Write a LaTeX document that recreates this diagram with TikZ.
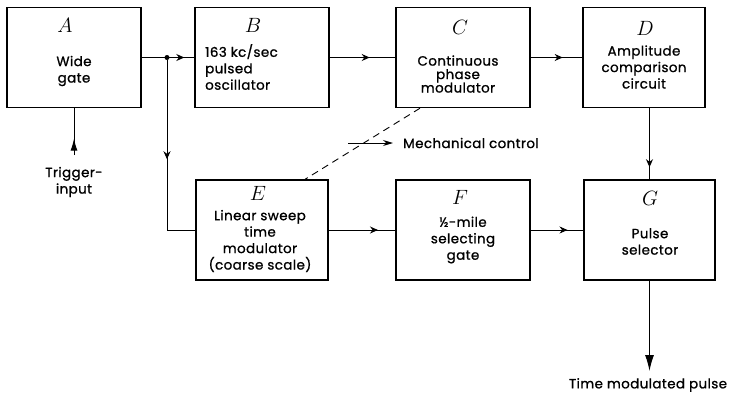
\documentclass[tikz,border=0pt]{standalone}
\usepackage{fontspec}
\setmainfont{Poppins}[LetterSpace=3,FakeBold=1]
\usetikzlibrary{arrows.meta,decorations.markings}
\begin{document}
\begin{tikzpicture}[x=1bp,y=-1bp,
  blk/.style={draw,line width=1.4pt,minimum width=#1,minimum height=100bp,inner sep=0pt},
  letter/.style={font=\fontsize{20}{20}\selectfont,inner sep=0pt},
  txt/.style={align=center,font=\fontsize{13.5}{16.5}\selectfont,inner sep=0pt},
  dot/.style={circle,fill,inner sep=0pt,minimum size=5bp},
  fwd/.style={line width=1pt,postaction={decorate},
    decoration={markings,mark=at position #1 with {\arrow{Stealth[length=8bp,width=7bp]}}}},
  trigarr/.style={line width=1pt,postaction={decorate},
    decoration={markings,mark=at position 0.35 with {\arrow{Latex[length=12bp,width=7bp]}}}},
  outarr/.style={line width=1.1pt,-{Latex[length=16bp,width=9bp]}},
  mech/.style={line width=0.9pt,dash pattern=on 7bp off 5bp}]
  \useasboundingbox (0,0) rectangle (735,393);
  % top row
  \node[blk=134bp] (A) at (74,57.5) {};
  \node[letter] (lA) at (65,25) {$A$};
  \node[txt] (tA) at (74,71) {Wide\\gate};
  \node[blk=134bp] (B) at (262,57.5) {};
  \node[letter] (lB) at (253,25) {$B$};
  \node[txt,align=left,anchor=west] (tB) at (205,67) {163 kc/sec\\pulsed\\oscillator};
  \node[blk=134bp] (C) at (463,57.5) {};
  \node[letter] (lC) at (460,27) {$C$};
  \node[txt,font=\fontsize{13.5}{13.5}\selectfont] (tC) at (458,74) {Continuous\\phase\\modulator};
  \node[blk=122bp] (D) at (644,57.5) {};
  \node[letter] (lD) at (645,28) {$D$};
  \node[txt] (tD) at (644,67) {Amplitude\\comparison\\circuit};
  % bottom row
  \node[blk=132bp] (E) at (262,230) {};
  \node[letter] (lE) at (258,193) {$E$};
  \node[txt] (tE) at (260,241) {Linear sweep\\time\\modulator\\(coarse scale)};
  \node[blk=134bp] (F) at (463,230) {};
  \node[letter] (lF) at (460,197) {$F$};
  \node[txt] (tF) at (463,240) {½-mile\\selecting\\gate};
  \node[blk=131bp] (G) at (649.5,230) {};
  \node[letter] (lG) at (650,198) {$G$};
  \node[txt] (tG) at (650,241.5) {Pulse\\selector};
  % inputs, outputs, control
  \node[dot] (jct) at (167,57.5) {};
  \node[txt] (trig) at (74,182) {Trigger-\\input};
  \coordinate (trg) at (74,155);
  \node[txt] (out) at (648,385) {Time modulated pulse};
  \coordinate (otip) at (649.5,371);
  \node[txt,anchor=west] (mc) at (403,143) {Mechanical control};
  \coordinate (mcs) at (348,143);
  % connections
  \draw[fwd=0.81] (A) -- (B);
  \draw[fwd=0.61] (B) -- (C);
  \draw[fwd=0.62] (C) -- (D);
  \draw[fwd=0.83] (D.south -| G) -- (G);
  \draw[fwd=0.5] (jct) |- (E);
  \draw[fwd=0.74] (E) -- (F);
  \draw[fwd=0.7] (F) -- (G);
  \draw[trigarr] (trg) -- (A);
  \draw[outarr] (G) -- (otip);
  \draw[mech] ([xshift=-43bp]C.south) -- ([xshift=43bp]E.north);
  \draw[line width=1pt,-{Stealth[length=10bp,width=6bp]}] (mcs) -- ([xshift=-10bp]mc.west);
\end{tikzpicture}
\end{document}
